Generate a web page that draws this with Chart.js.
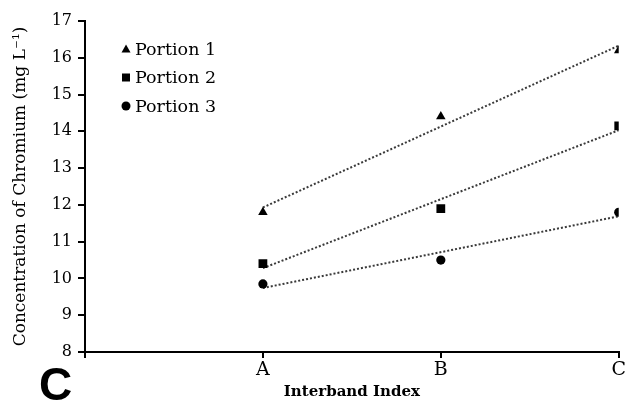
<!DOCTYPE html>
<html>
<head>
<meta charset="utf-8">
<script src="https://cdn.jsdelivr.net/npm/chart.js@4"></script>
<style>
  html, body { margin: 0; padding: 0; background: #fff; }
  #wrap { width: 627px; height: 407px; position: relative; }
</style>
</head>
<body>
<div id="wrap"><canvas id="myChart" width="627" height="407"></canvas></div>
<script>
// chart values
const categories = ["A", "B", "C"];
const portion1 = [11.8, 14.4, 16.2];
const portion2 = [10.4, 11.9, 14.15];
const portion3 = [9.85, 10.5, 11.8];
// dotted trendlines, value at A and at C
const trend1 = [11.93, 16.33];
const trend2 = [10.28, 14.03];
const trend3 = [9.74, 11.69];
const seriesNames = ["Portion 1", "Portion 2", "Portion 3"];
const markers = ["triangle", "rect", "circle"];

const serif = "'DejaVu Serif', serif";

// turn a list of values into {x, y} points on the category positions
function toPoints(values) {
  const pts = [];
  for (let i = 0; i < values.length; i++) {
    pts.push({ x: i + 1, y: values[i] });
  }
  return pts;
}

function trendPoints(ends) {
  return [{ x: 1, y: ends[0] }, { x: categories.length, y: ends[1] }];
}

const pointData = [portion1, portion2, portion3];
const trendData = [trend1, trend2, trend3];
const markerRadius = { triangle: 5.5, rect: 6.2, circle: 4.6 };

const datasets = [];
for (let i = 0; i < pointData.length; i++) {
  datasets.push({
    label: seriesNames[i],
    data: toPoints(pointData[i]),
    showLine: false,
    pointStyle: markers[i],
    pointRadius: markerRadius[markers[i]],
    pointHoverRadius: markerRadius[markers[i]],
    backgroundColor: "#000",
    borderColor: "#000",
    borderWidth: 0,
  });
  datasets.push({
    label: "trend " + (i + 1),
    data: trendPoints(trendData[i]),
    showLine: true,
    borderColor: "#3a3a3a",
    borderWidth: 2,
    borderDash: [2, 2],
    pointRadius: 0,
    fill: false,
  });
}

// legend inside the plot + the panel letter
const extras = {
  id: "extras",
  afterDraw(chart) {
    const ctx = chart.ctx;
    const area = chart.chartArea;
    ctx.save();
    for (let i = 0; i < seriesNames.length; i++) {
      const mx = area.left + 41;
      const my = area.top + 28 + i * 28.5;
      ctx.fillStyle = "#000";
      ctx.beginPath();
      if (markers[i] === "triangle") {
        ctx.moveTo(mx, my - 4.5);
        ctx.lineTo(mx + 4.5, my + 3.5);
        ctx.lineTo(mx - 4.5, my + 3.5);
        ctx.closePath();
        ctx.fill();
      } else if (markers[i] === "rect") {
        ctx.fillRect(mx - 4, my - 4, 8, 8);
      } else {
        ctx.arc(mx, my, 4.5, 0, Math.PI * 2);
        ctx.fill();
      }
      ctx.font = "17.5px " + serif;
      ctx.textBaseline = "middle";
      ctx.textAlign = "left";
      ctx.fillText(seriesNames[i], mx + 9, my + 1);
    }
    ctx.font = "bold 46px 'Liberation Sans', Arial, sans-serif";
    ctx.textBaseline = "alphabetic";
    ctx.fillText("C", 39, 400);
    ctx.restore();
  },
};

new Chart(document.getElementById("myChart"), {
  type: "scatter",
  data: { datasets: datasets },
  plugins: [extras],
  options: {
    responsive: false,
    animation: false,
    layout: { padding: { top: 21, right: 7, left: 0, bottom: 0 } },
    plugins: {
      legend: { display: false },
      tooltip: { enabled: false },
    },
    scales: {
      x: {
        type: "linear",
        min: 0,
        max: categories.length,
        afterFit(scale) { scale.height = 55; },
        afterBuildTicks(scale) {
          scale.ticks = [0, 1, 2, 3].map(v => ({ value: v }));
        },
        ticks: {
          color: "#000",
          font: { family: serif, size: 19 },
          padding: 1,
          maxRotation: 0,
          autoSkip: false,
          callback: (v) => (v >= 1 ? categories[v - 1] : ""),
        },
        grid: { drawOnChartArea: false, color: "#000", tickLength: 6, lineWidth: 2 },
        border: { color: "#000", width: 2 },
        title: {
          display: true,
          text: "Interband Index",
          color: "#000",
          font: { family: serif, size: 15, weight: "bold" },
          padding: { top: 0, bottom: 6 },
        },
      },
      y: {
        min: 8,
        max: 17,
        afterFit(scale) { scale.width = 85; },
        ticks: {
          stepSize: 1,
          color: "#000",
          font: { family: serif, size: 16 },
          padding: 6,
        },
        grid: { drawOnChartArea: false, color: "#000", tickLength: 7, lineWidth: 2 },
        border: { color: "#000", width: 2 },
        title: {
          display: true,
          text: "Concentration of Chromium (mg L\u207B\u00B9)",
          color: "#000",
          font: { family: serif, size: 17 },
          padding: { top: 10, bottom: 0 },
        },
      },
    },
  },
});
</script>
</body>
</html>
